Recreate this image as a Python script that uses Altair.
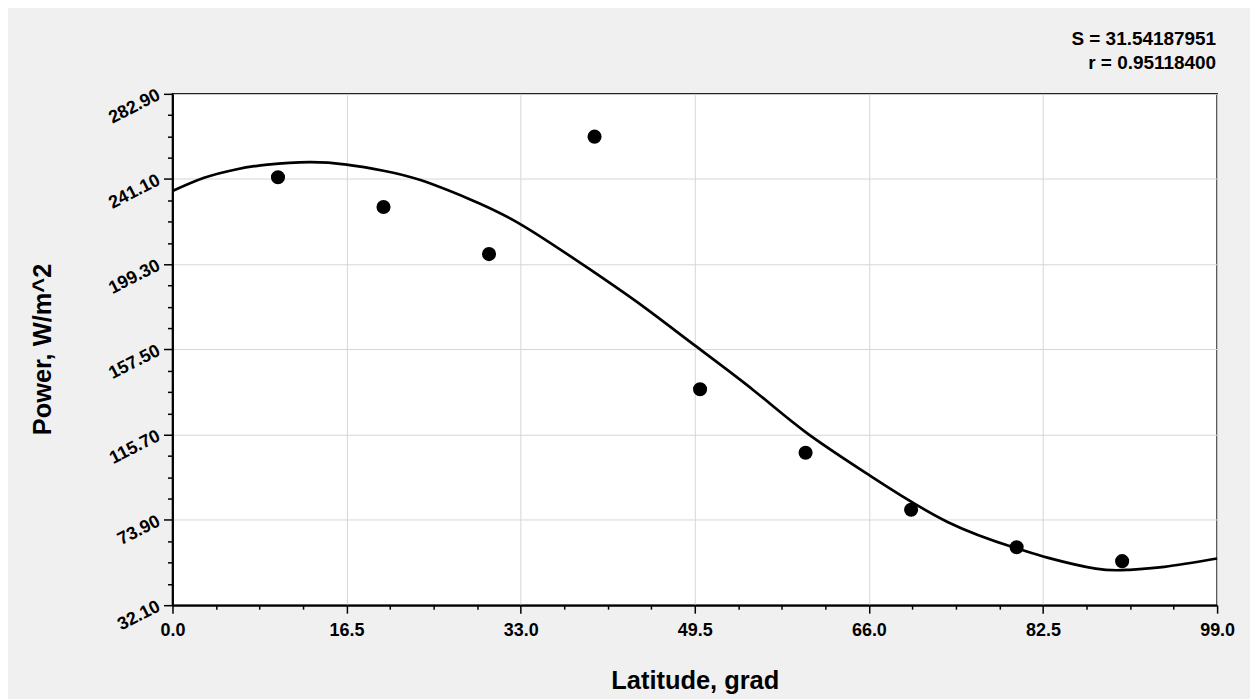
import altair as alt
import pandas as pd

# measured points
latitude = [10, 20, 30, 40, 50, 60, 70, 80, 90]
power = [242.0, 227.4, 204.3, 261.9, 138.0, 106.9, 78.9, 60.5, 53.7]

# fitted curve
curve_x = [0, 3, 6, 9, 13, 16.5, 20, 23.5, 28, 33, 39.5, 44.5, 49.5, 55, 60,
           66, 73.5, 80, 83, 87.5, 90.5, 94, 99]
curve_y = [235.2, 241.7, 245.8, 248.2, 249.4, 248.2, 245.2, 240.6, 231.6, 218.9,
           197.0, 179.0, 159.5, 137.8, 117.0, 96.0, 72.8, 60.0, 55.3, 50.0, 49.4,
           50.9, 55.0]

x_major = [0.0, 16.5, 33.0, 49.5, 66.0, 82.5, 99.0]
y_major = [32.10, 73.90, 115.70, 157.50, 199.30, 241.10, 282.90]

stats_text = ["S = 31.54187951", "r = 0.95118400"]


def with_minor(major, n=4):
    vals = []
    for a, b in zip(major[:-1], major[1:]):
        for k in range(n):
            vals.append(round(a + (b - a) * k / n, 6))
    vals.append(major[-1])
    return vals


x_vals = with_minor(x_major)
y_vals = with_minor(y_major)

x_test = "abs(datum.value/16.5 - round(datum.value/16.5)) < 0.001"
y_test = "abs((datum.value-32.1)/41.8 - round((datum.value-32.1)/41.8)) < 0.001"

FONT = "Liberation Sans"

x_enc = alt.X(
    "x:Q",
    scale=alt.Scale(domain=[0, 99], nice=False, zero=False),
    axis=alt.Axis(
        title="Latitude, grad",
        values=x_vals,
        labelExpr=f"{x_test} ? format(datum.value, '.1f') : ''",
        tickSize={"condition": {"test": x_test, "value": 8}, "value": 4},
        gridOpacity={"condition": {"test": x_test, "value": 1}, "value": 0},
        labelPadding=8,
        labelFontSize=18,
        labelOverlap=False,
        labelFlush=False,
        titleFontSize=25.5,
        titleX=524,
        titleY=84,
        titleBaseline="alphabetic",
    ),
)

y_enc = alt.Y(
    "y:Q",
    scale=alt.Scale(domain=[32.1, 282.9], nice=False, zero=False),
    axis=alt.Axis(
        title="Power, W/m^2",
        values=y_vals,
        labelExpr=f"{y_test} ? format(datum.value, '.2f') : ''",
        tickSize={"condition": {"test": y_test, "value": 9}, "value": 5},
        gridOpacity={"condition": {"test": y_test, "value": 1}, "value": 0},
        labelAngle=333,
        labelAlign="right",
        labelBaseline="middle",
        labelPadding=5,
        labelFontSize=18,
        labelOverlap=False,
        labelFlush=False,
        titleFontSize=25.5,
        titleX=-130,
        titleY=256,
        titleAngle=270,
        titleAlign="center",
        titleBaseline="middle",
    ),
)

pts_df = pd.DataFrame({"x": latitude, "y": power})
curve_df = pd.DataFrame({"x": curve_x, "y": curve_y})
text_df = pd.DataFrame({"t": ["\n".join(stats_text)]})

curve = alt.Chart(curve_df).mark_line(
    color="black", strokeWidth=2.7, interpolate="natural"
).encode(x=x_enc, y=y_enc)

points = alt.Chart(pts_df).mark_circle(
    color="black", size=200, opacity=1
).encode(x=x_enc, y=y_enc)

stats = alt.Chart(text_df).mark_text(
    align="right", baseline="middle", lineBreak="\n", lineHeight=24,
    font=FONT, fontWeight="bold", fontSize=19, color="black"
).encode(x=alt.value(1047), y=alt.value(-55), text="t:N")

chart = alt.layer(curve, points, stats).properties(
    width=1048,
    height=513,
    padding={"left": 165, "top": 85, "right": 33, "bottom": 93},
    autosize=alt.AutoSizeParams(type="none"),
    background="#f0f0f0",
).configure_view(
    fill="white", stroke="black", strokeWidth=1.5
).configure_axis(
    domainColor="black",
    domainWidth=2,
    tickColor="black",
    tickWidth=1.5,
    gridColor="#d6d6d6",
    gridWidth=1,
    labelFont=FONT,
    labelFontWeight="bold",
    labelColor="black",
    titleFont=FONT,
    titleFontWeight="bold",
    titleColor="black",
)

chart.save("out.html", embed_options={"renderer": "svg", "actions": False})
